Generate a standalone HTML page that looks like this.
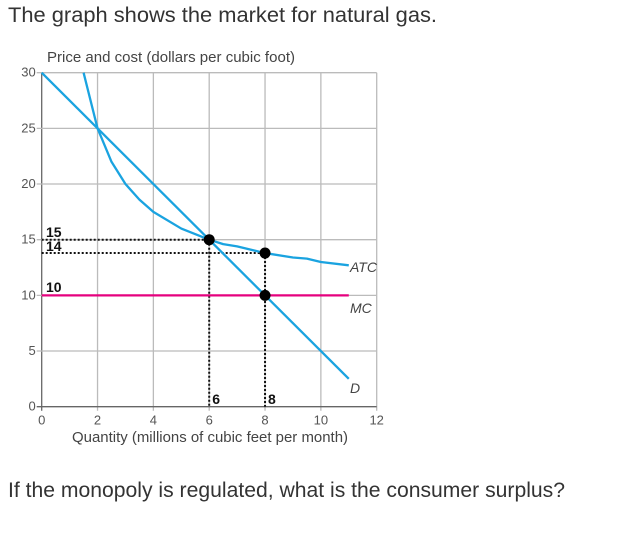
<!DOCTYPE html>
<html><head><meta charset="utf-8"><style>
body{margin:0;background:#fff;font-family:"Liberation Sans",sans-serif}
</style></head><body>
<svg width="622" height="529" viewBox="0 0 622 529" xmlns="http://www.w3.org/2000/svg">
<text x="8" y="22" font-size="21" fill="#333" textLength="429" lengthAdjust="spacingAndGlyphs">The graph shows the market for natural gas.</text>
<text x="8" y="497" font-size="21" fill="#333" textLength="557" lengthAdjust="spacingAndGlyphs">If the monopoly is regulated, what is the consumer surplus?</text>
<text x="47" y="62" font-size="14.5" fill="#444" textLength="248" lengthAdjust="spacingAndGlyphs">Price and cost (dollars per cubic foot)</text>
<text x="72" y="442" font-size="14.5" fill="#444" textLength="276" lengthAdjust="spacingAndGlyphs">Quantity (millions of cubic feet per month)</text>
<g id="grid"></g>
<g id="marks"></g>
</svg>
<script>
const xTicks=[0,2,4,6,8,10,12];
const yTicks=[0,5,10,15,20,25,30];
const demandQ=[0,11];
const demandP=[30,2.5];
const atcQ=[1.5,2,2.5,3,3.5,4,5,6,6.5,7,8,9,9.5,10,11];
const atcP=[30,25,22,20,18.6,17.5,16,15,14.6,14.4,13.8,13.4,13.3,13,12.7];
const mcQ=[0,11];
const mcP=[10,10];
const points=[[6,15],[8,13.8],[8,10]];
const X=q=>41.7+q*(335/12);
const Y=p=>406.7-p*(334/30);
const NS='http://www.w3.org/2000/svg';
const grid=document.getElementById('grid'),marks=document.getElementById('marks');
function mk(t,a,parent){const e=document.createElementNS(NS,t);for(const k in a)e.setAttribute(k,a[k]);parent.appendChild(e);return e;}
xTicks.forEach(t=>{
 const l=mk('line',{x1:X(t),x2:X(t),y1:Y(30),y2:Y(0)+4,stroke:t==0?'#666':'#bbb','stroke-width':1.3},grid);
 
 
 const tx=mk('text',{x:X(t),y:Y(0)+18,'font-size':13,fill:'#555','text-anchor':'middle'},grid);tx.textContent=t;
 
 
});
yTicks.forEach(t=>{
 const l=mk('line',{x1:X(0)-5,x2:X(12),y1:Y(t),y2:Y(t),stroke:t==0?'#666':'#bbb','stroke-width':1.3},grid);
 
 
 const tx=mk('text',{x:X(0)-6,y:Y(t)+4,'font-size':13,fill:'#555','text-anchor':'end'},grid);tx.textContent=t;
 
 
});
function dash(x1,y1,x2,y2){const l=mk('line',{x1,y1,x2,y2,stroke:'#111','stroke-width':2,'stroke-dasharray':'2,2'},marks);
 
 }
dash(X(0),Y(15),X(6),Y(15));dash(X(0),Y(13.8),X(8),Y(13.8));
dash(X(6),Y(15),X(6),Y(0));dash(X(8),Y(13.8),X(8),Y(0));
function poly(qs,ps,c,name){const p=mk('polyline',{points:qs.map((q,i)=>X(q)+','+Y(ps[i])).join(' '),fill:'none',stroke:c,'stroke-width':2.3,'stroke-linejoin':'round'},marks);
 
 }
poly(mcQ,mcP,'#e5007e','mc-line');
poly(demandQ,demandP,'#1aa3e0','demand-line');
poly(atcQ,atcP,'#1aa3e0','atc-curve');
points.forEach(([q,p])=>{const c=mk('circle',{cx:X(q),cy:Y(p),r:5.5,fill:'#000'},marks);
 
 });
function lab(x,y,s,o){const t=mk('text',Object.assign({x,y,'font-size':14,fill:'#111'},o||{}),marks);t.textContent=s;
 
 }
const b={'font-weight':'bold'};
lab(46,237,'15',b);lab(46,251,'14',b);lab(46,292,'10',b);
lab(X(6)+3,404,'6',b);lab(X(8)+3,404,'8',b);
const it={'font-style':'italic',fill:'#444'};
lab(350,272,'ATC',it);lab(350,313,'MC',it);lab(350,393,'D',it);
</script>
</body></html>
